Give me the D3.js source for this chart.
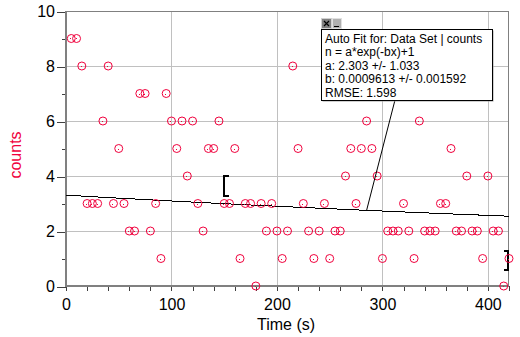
<!DOCTYPE html>
<html>
<head>
<meta charset="utf-8">
<script src="https://cdn.jsdelivr.net/npm/d3@7/dist/d3.min.js"></script>
<style>
  html, body { margin: 0; padding: 0; background: #fff; }
  svg { display: block; font-family: "Liberation Sans", Arial, sans-serif; }
</style>
</head>
<body>
<svg id="chart" width="520" height="337"></svg>
<script>
// Sample times (s) and recorded counts
const times = [5, 10, 15, 20, 25, 30, 35, 40, 45, 50,
  55, 60, 65, 70, 75, 80, 85, 90, 95, 100,
  105, 110, 115, 120, 125, 130, 135, 140, 145, 150,
  155, 160, 165, 170, 175, 180, 185, 190, 195, 200,
  205, 210, 215, 220, 225, 230, 235, 240, 245, 250,
  255, 260, 265, 270, 275, 280, 285, 290, 295, 300,
  305, 310, 315, 320, 325, 330, 335, 340, 345, 350,
  355, 360, 365, 370, 375, 380, 385, 390, 395, 400,
  405, 410, 415, 420];
const counts = [9, 9, 8, 3, 3, 3, 6, 8, 3, 5,
  3, 2, 2, 7, 7, 2, 3, 1, 7, 6,
  5, 6, 4, 6, 3, 2, 5, 5, 6, 3,
  3, 5, 1, 3, 3, 0, 3, 2, 3, 2,
  1, 2, 8, 5, 3, 2, 1, 2, 3, 1,
  2, 2, 4, 5, 3, 5, 6, 5, 4, 1,
  2, 2, 2, 3, 2, 1, 6, 2, 2, 2,
  3, 3, 5, 2, 2, 4, 2, 2, 1, 4,
  2, 2, 0, 1];

// Fit parameters: n = a*exp(-b*x) + 1
const fitA = 2.303;
const fitB = 0.0009613;
const fitLines = [
  "Auto Fit for: Data Set | counts",
  "n = a*exp(-bx)+1",
  "a: 2.303 +/- 1.033",
  "b: 0.0009613 +/- 0.001592",
  "RMSE: 1.598"
];
const fitRange = [150, 420];
const xTicks = [0, 100, 200, 300, 400];
const yTicks = [0, 2, 4, 6, 8, 10];

const svg = d3.select("#chart");
const plotL = 66, plotR = 509, plotT = 11, plotB = 286;
const x = d3.scaleLinear().domain([0, 420]).range([plotL, plotR]);
const y = d3.scaleLinear().domain([0, 10]).range([plotB, plotT]);
const red = "#f0003c";
const px = v => Math.round(v) + 0.5;

// grid
const grid = svg.append("g").attr("stroke", "#c0c0c0").attr("stroke-width", 1).attr("shape-rendering", "crispEdges");
xTicks.filter(d => d > 0).forEach(d => grid.append("line").attr("x1", px(x(d))).attr("x2", px(x(d))).attr("y1", plotT).attr("y2", plotB));
yTicks.filter(d => d > 0 && d < 10).forEach(d => grid.append("line").attr("x1", plotL).attr("x2", plotR).attr("y1", px(y(d))).attr("y2", px(y(d))));

// frame
svg.append("rect").attr("x", plotL + 0.5).attr("y", plotT + 0.5).attr("width", plotR - plotL - 1).attr("height", plotB - plotT - 1)
  .attr("fill", "none").attr("stroke", "#808080").attr("shape-rendering", "crispEdges");

// axes
const xAxis = d3.axisBottom(x).tickValues(d3.range(0, 421, 20)).tickSize(5)
  .tickFormat(d => xTicks.includes(d) ? d : "");
const gx = svg.append("g").attr("transform", `translate(0,${plotB})`).call(xAxis);
gx.select(".domain").remove();
gx.selectAll(".tick line").attr("stroke", "#404040").attr("shape-rendering", "crispEdges");
gx.selectAll(".tick text").attr("font-size", 16).attr("fill", "#000").attr("dy", "1.0em")
  .attr("font-family", "'Liberation Sans', Arial, sans-serif");

const yAxis = d3.axisLeft(y).tickValues(d3.range(0, 11, 1)).tickSize(0)
  .tickFormat(d => yTicks.includes(d) ? d : "");
const gy = svg.append("g").attr("transform", `translate(${plotL},0)`).call(yAxis);
gy.select(".domain").remove();
gy.selectAll(".tick line").remove();
gy.selectAll(".tick").each(function(d) {
  const len = yTicks.includes(d) ? 9 : 4;
  d3.select(this).append("line").attr("x1", -len).attr("x2", 0).attr("y1", 0.5).attr("y2", 0.5)
    .attr("stroke", "#404040").attr("shape-rendering", "crispEdges");
});
gy.selectAll(".tick text").attr("font-size", 16).attr("fill", "#000").attr("x", -11)
  .attr("font-family", "'Liberation Sans', Arial, sans-serif");

svg.append("line").attr("x1", plotL).attr("x2", plotL).attr("y1", plotT).attr("y2", plotB + 1)
  .attr("stroke", "#808080").attr("stroke-width", 2);
svg.append("line").attr("x1", plotL - 1).attr("x2", plotR).attr("y1", plotB).attr("y2", plotB)
  .attr("stroke", "#808080").attr("stroke-width", 2);

// axis titles
svg.append("text").attr("x", 286).attr("y", 330).attr("text-anchor", "middle")
  .attr("font-size", 16).attr("fill", "#000").text("Time (s)");
svg.append("text").attr("transform", "translate(21,155) rotate(-90)").attr("text-anchor", "middle")
  .attr("font-size", 16).attr("fill", red).text("counts");

// fit curve
const fitX = d3.range(0, 421, 5);
const fit = d => fitA * Math.exp(-fitB * d) + 1;
svg.append("path").datum(fitX)
  .attr("d", d3.line().x(d => x(d)).y(d => y(fit(d))))
  .attr("fill", "none").attr("stroke", "#000").attr("stroke-width", 1).attr("shape-rendering", "crispEdges");

// fit range brackets
const br = svg.append("g").attr("fill", "none").attr("stroke", "#000").attr("stroke-width", 2).attr("shape-rendering", "crispEdges");
br.append("path").attr("d", `M${x(fitRange[0]) + 5},${y(4.0)} H${x(fitRange[0])} V${y(3.28)} H${x(fitRange[0]) + 5}`);
br.append("path").attr("d", `M${x(fitRange[1]) - 5},${y(1.27)} H${x(fitRange[1]) - 1} V${y(0.58)} H${x(fitRange[1]) - 5}`);

// data points
const pts = svg.append("g");
times.forEach((t, i) => {
  pts.append("circle").attr("cx", x(t)).attr("cy", y(counts[i])).attr("r", 4)
    .attr("fill", "none").attr("stroke", red).attr("stroke-width", 1);
  pts.append("rect").attr("x", Math.round(x(t)) - 1).attr("y", Math.round(y(counts[i])))
    .attr("width", 1).attr("height", 1).attr("fill", red);
});

// fit info box with leader line
const bx = 321, by = 29, bw = 171, bh = 71;
svg.append("line").attr("x1", x(285)).attr("y1", y(fit(285))).attr("x2", 395).attr("y2", by + bh)
  .attr("stroke", "#000").attr("stroke-width", 1);
svg.append("rect").attr("x", bx + 1.5).attr("y", by + 1.5).attr("width", bw).attr("height", bh)
  .attr("fill", "#a0a0a0");
svg.append("rect").attr("x", bx + 0.5).attr("y", by + 0.5).attr("width", bw).attr("height", bh)
  .attr("fill", "#fff").attr("stroke", "#000").attr("shape-rendering", "crispEdges");
fitLines.forEach((s, i) => {
  svg.append("text").attr("x", bx + 4).attr("y", by + 14 + i * 13.4)
    .attr("font-size", 12).attr("fill", "#000").text(s);
});
// close / minimize buttons
svg.append("rect").attr("x", 321.5).attr("y", 18.5).attr("width", 10).attr("height", 10)
  .attr("fill", "#808080").attr("stroke", "#d0d0d0").attr("shape-rendering", "crispEdges");
svg.append("path").attr("d", "M324,21 L329,26 M329,21 L324,26").attr("stroke", "#000").attr("stroke-width", 1.2);
svg.append("rect").attr("x", 332.5).attr("y", 18.5).attr("width", 9).attr("height", 10)
  .attr("fill", "#b0b0b0").attr("stroke", "#e0e0e0").attr("shape-rendering", "crispEdges");
svg.append("line").attr("x1", 334).attr("x2", 339).attr("y1", 26.5).attr("y2", 26.5).attr("stroke", "#000");
</script>
</body>
</html>
